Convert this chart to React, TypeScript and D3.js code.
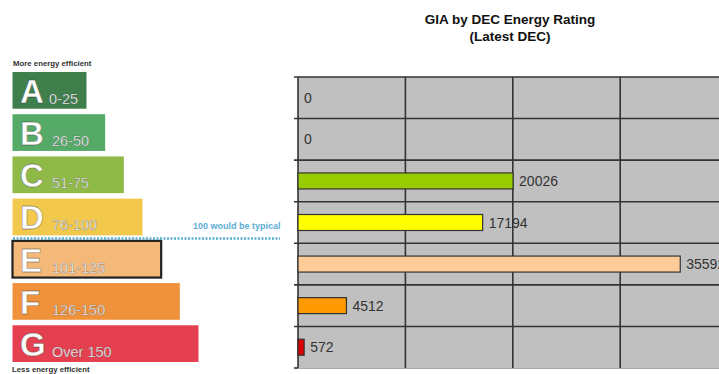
import React from "react";
import * as d3 from "d3";

// Energy rating bands (DEC operational rating scale)
const ratings = ["A", "B", "C", "D", "E", "F", "G"];
const ranges = ["0-25", "26-50", "51-75", "76-100", "101-125", "126-150", "Over 150"];
const scaleColors = ["#3f7f4c", "#55aa68", "#8fba48", "#f2c94c", "#f4b878", "#f0923c", "#e5404f"];

// Gross internal area per rating
const giaValues = [0, 0, 20026, 17194, 35592, 4512, 572];
const barColors = ["#99cc00", "#99cc00", "#99cc00", "#ffff00", "#ffcc99", "#ff9900", "#dd0000"];
const gridTicks = [10000, 20000, 30000, 40000];

const W = 719;
const H = 374;

export default function App() {
  // Left: rating scale graphic
  const rowY = d3.scaleBand<string>().domain(ratings).range([72, 362]).paddingInner(0.13);
  const rowW = d3.scaleLinear().domain([0, 6]).range([74, 186]);

  // Right: horizontal bar chart
  const x = d3.scaleLinear().domain([0, 40000]).range([298, 727.6]);
  const y = d3.scaleBand<string>().domain(ratings).range([77, 368]);
  const barH = 16;

  return (
    <svg width={W} height={H} style={{ position: "absolute", left: 0, top: 0, background: "#fff" }}
      fontFamily="'Liberation Sans', Arial, sans-serif">
      {/* rating scale */}
      <text x={13} y={66} fontSize={7.8} fontWeight="bold" fill="#333">More energy efficient</text>
      {ratings.map((r, i) => {
        const y0 = rowY(r)!;
        const h = rowY.bandwidth();
        const isE = r === "E";
        return (
          <g key={r}>
            <rect x={12.5} y={y0} width={rowW(i)} height={h} fill={scaleColors[i]}
              stroke={isE ? "#222" : "none"} strokeWidth={isE ? 2.2 : 0} />
            <text x={20} y={y0 + h - 6} fontSize={33} fontWeight="bold" fill="#fff"
              stroke="rgba(60,60,60,0.45)" strokeWidth={0.8}>{r}</text>
            <text x={i === 0 ? 49 : 52} y={y0 + h - 5} fontSize={14.5} fill="#fff"
              stroke="rgba(60,60,60,0.45)" strokeWidth={0.6}>{ranges[i]}</text>
          </g>
        );
      })}
      <text x={193} y={229} fontSize={9} fontWeight="bold" fill="#5aaed4">100 would be typical</text>
      <line x1={13} x2={280} y1={238.5} y2={238.5} stroke="#5aaed4" strokeWidth={2.5} strokeDasharray="2,1.5" />
      <text x={12} y={372} fontSize={7.8} fontWeight="bold" fill="#333">Less energy efficient</text>

      {/* chart title */}
      <text x={510} y={24} textAnchor="middle" fontSize={13.5} fontWeight="bold" fill="#111">GIA by DEC Energy Rating</text>
      <text x={510} y={41} textAnchor="middle" fontSize={13.5} fontWeight="bold" fill="#111">(Latest DEC)</text>

      {/* plot area */}
      <rect x={x(0)} y={y.range()[0]} width={W - x(0)} height={y.range()[1] - y.range()[0]} fill="#c0c0c0" />
      <line x1={x(0)} x2={W} y1={368.5} y2={368.5} stroke="#aaa" strokeWidth={1} />
      {ratings.map((r) => (
        <line key={"h" + r} x1={294} x2={W} y1={y(r)!} y2={y(r)!} stroke="#333" strokeWidth={1.6} />
      ))}
      <line x1={294} x2={x(0)} y1={368} y2={368} stroke="#333" strokeWidth={1.6} />
      {gridTicks.map((t) => (
        <line key={"v" + t} x1={x(t)} x2={x(t)} y1={77} y2={368} stroke="#333" strokeWidth={1.6} />
      ))}
      <line x1={x(0)} x2={x(0)} y1={77} y2={368} stroke="#333" strokeWidth={1.6} />

      {ratings.map((r, i) => {
        const v = giaValues[i];
        const cy = y(r)! + y.bandwidth() / 2;
        return (
          <g key={"b" + r}>
            {v > 0 && (
              <rect x={x(0)} y={cy - barH / 2} width={x(v) - x(0)} height={barH}
                fill={barColors[i]} stroke="#333" strokeWidth={1.2} />
            )}
            <text x={x(v) + 6} y={cy + 5} fontSize={14} fill="#333">{v}</text>
          </g>
        );
      })}
    </svg>
  );
}
